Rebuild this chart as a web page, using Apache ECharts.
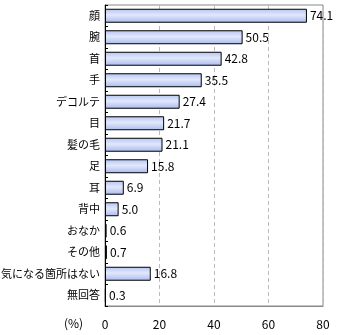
<!DOCTYPE html>
<html><head><meta charset="utf-8">
<script src="https://cdn.jsdelivr.net/npm/echarts@6/dist/echarts.min.js"></script>
<style>html,body{margin:0;padding:0;background:#fff}#c{width:340px;height:335px}</style>
</head><body><div id="c"></div>
<script>
const categories = ['顔','腕','首','手','デコルテ','目','髪の毛','足','耳','背中','おなか','その他','気になる箇所はない','無回答'];
const values = [74.1,50.5,42.8,35.5,27.4,21.7,21.1,15.8,6.9,5.0,0.6,0.7,16.8,0.3];
const xTicks = {min:0,max:80,interval:20};
const unitLabel = '(%)';

const font = '"Noto Sans CJK JP", "Noto Sans", sans-serif';
const chart = echarts.init(document.getElementById('c'), null, {renderer:'canvas'});
chart.setOption({
  animation:false,
  backgroundColor:'#fff',
  grid:{left:105,right:17,top:5,bottom:29,show:true,borderColor:'#888',borderWidth:1,containLabel:false,outerBoundsMode:'none'},
  xAxis:{type:'value',min:xTicks.min,max:xTicks.max,interval:xTicks.interval,
    axisLine:{show:true,lineStyle:{color:'#888'}},axisTick:{show:false},
    axisLabel:{color:'#000',fontSize:12,fontFamily:font,margin:12},
    splitLine:{show:true,lineStyle:{color:'#bbb',type:[4,3]}}},
  yAxis:{type:'category',data:categories,inverse:true,
    axisLine:{show:true,lineStyle:{color:'#000'}},
    axisTick:{show:true,inside:true,length:3,lineStyle:{color:'#000'}},
    axisLabel:{color:'#000',fontSize:11,fontFamily:font,margin:5}},
  graphic:[{type:'text',left:64,top:317,style:{text:unitLabel,fill:'#000',font:'12px '+font}}],
  series:[{type:'bar',data:values,barCategoryGap:'35%',
    itemStyle:{borderColor:'#000',borderWidth:1,
      color:new echarts.graphic.LinearGradient(0,0,0,1,[
        {offset:0,color:'#b4c4f2'},{offset:0.45,color:'#e2e8fb'},{offset:1,color:'#a8baee'}])},
    label:{show:true,position:'right',distance:3,color:'#000',fontSize:12,fontFamily:font,
      formatter:p=>p.value.toFixed(1)}}]
});
</script></body></html>
